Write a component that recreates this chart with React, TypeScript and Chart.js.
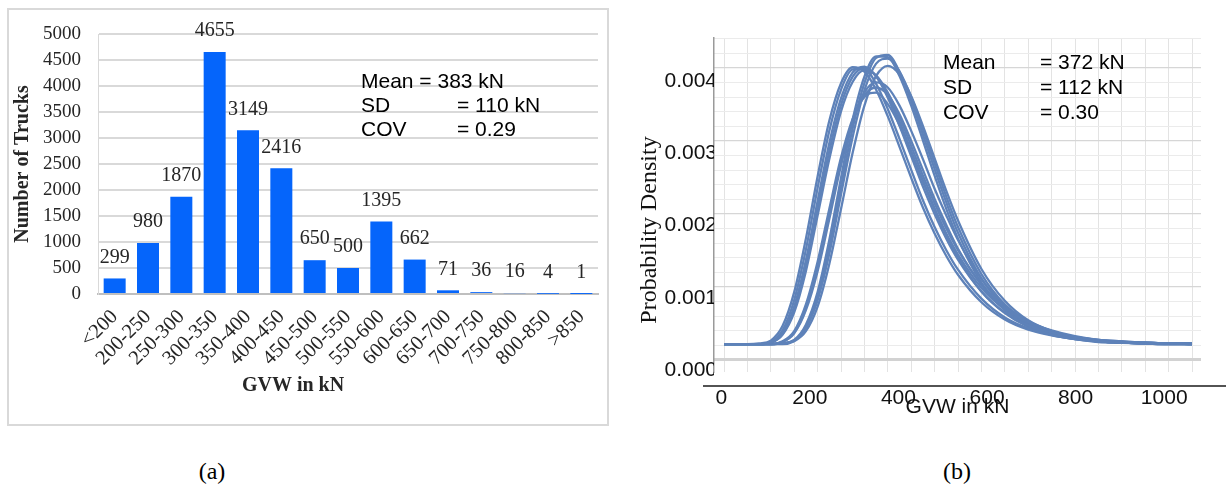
import React, { useEffect, useRef } from "react";
import { Chart, registerables } from "chart.js";

Chart.register(...registerables);

// ---------- Panel (a): histogram ----------
const gvwBins = ["<200", "200-250", "250-300", "300-350", "350-400", "400-450", "450-500", "500-550", "550-600", "600-650", "650-700", "700-750", "750-800", "800-850", ">850"];
const truckCounts = [299, 980, 1870, 4655, 3149, 2416, 650, 500, 1395, 662, 71, 36, 16, 4, 1];
const histStatsLabels = ["Mean = 383 kN", "SD", "COV"];
const histStatsValues = ["", "= 110 kN", "= 0.29"];

// ---------- Panel (b): fitted density curves ----------
const densityX = [0, 50, 75, 100, 125, 150, 175, 200, 225, 250, 275, 300, 325, 350, 375, 400, 425, 450, 475, 500, 550, 600, 650, 700, 750, 800, 850, 900, 950, 1000];
const curveA = [0.00036, 0.00036, 0.00036, 0.00039, 0.00055, 0.00097, 0.00167, 0.00252, 0.00331, 0.00388, 0.00416, 0.00417, 0.00396, 0.00361, 0.0032, 0.00277, 0.00235, 0.00198, 0.00166, 0.00139, 0.00099, 0.00073, 0.00058, 0.00049, 0.00043, 0.0004, 0.00038, 0.00037, 0.00037, 0.00036];
const curveB = [0.00036, 0.00036, 0.00036, 0.00038, 0.00052, 0.00088, 0.00152, 0.00234, 0.00314, 0.00376, 0.00412, 0.0042, 0.00406, 0.00377, 0.00338, 0.00296, 0.00254, 0.00216, 0.00182, 0.00153, 0.00109, 0.0008, 0.00062, 0.00052, 0.00045, 0.00041, 0.00039, 0.00038, 0.00037, 0.00037];
const curveC = [0.00036, 0.00036, 0.00036, 0.00038, 0.00049, 0.0008, 0.00137, 0.00214, 0.00292, 0.00358, 0.00399, 0.00415, 0.00408, 0.00384, 0.0035, 0.0031, 0.00269, 0.00231, 0.00196, 0.00166, 0.00119, 0.00087, 0.00067, 0.00055, 0.00047, 0.00042, 0.0004, 0.00038, 0.00037, 0.00037];
const curveD = [0.00036, 0.00036, 0.00036, 0.00036, 0.00037, 0.00042, 0.00063, 0.00108, 0.0018, 0.00266, 0.00347, 0.00406, 0.00434, 0.00433, 0.00407, 0.00366, 0.00318, 0.00269, 0.00223, 0.00182, 0.00121, 0.00083, 0.00061, 0.00049, 0.00043, 0.00039, 0.00038, 0.00037, 0.00036, 0.00036];
const curveE = [0.00036, 0.00036, 0.00036, 0.00036, 0.00037, 0.00041, 0.00058, 0.00097, 0.00161, 0.00243, 0.00323, 0.00387, 0.00424, 0.00431, 0.00413, 0.00378, 0.00333, 0.00286, 0.0024, 0.00198, 0.00133, 0.00091, 0.00066, 0.00052, 0.00044, 0.0004, 0.00038, 0.00037, 0.00036, 0.00036];
const curveF = [0.00036, 0.00036, 0.00036, 0.00036, 0.00036, 0.0004, 0.00054, 0.00088, 0.00147, 0.00223, 0.00301, 0.00366, 0.00407, 0.00421, 0.00409, 0.00379, 0.00338, 0.00293, 0.00248, 0.00207, 0.0014, 0.00096, 0.00069, 0.00054, 0.00045, 0.00041, 0.00039, 0.00037, 0.00036, 0.00036];
const curveG = [0.00036, 0.00036, 0.00036, 0.00036, 0.0004, 0.00054, 0.00091, 0.0015, 0.00223, 0.00294, 0.00348, 0.00378, 0.00384, 0.00368, 0.00339, 0.00301, 0.00261, 0.00222, 0.00187, 0.00156, 0.00109, 0.00079, 0.0006, 0.0005, 0.00044, 0.0004, 0.00038, 0.00037, 0.00037, 0.00036];
const curveH = [0.00036, 0.00036, 0.00036, 0.00036, 0.00039, 0.00051, 0.00083, 0.00137, 0.00209, 0.00283, 0.00344, 0.00384, 0.00398, 0.00391, 0.00366, 0.00331, 0.00292, 0.00251, 0.00214, 0.0018, 0.00126, 0.0009, 0.00068, 0.00054, 0.00046, 0.00042, 0.00039, 0.00038, 0.00037, 0.00037];
const curveI = [0.00036, 0.00036, 0.00036, 0.00038, 0.0005, 0.00083, 0.00144, 0.00224, 0.00303, 0.00367, 0.00406, 0.00418, 0.00407, 0.00381, 0.00344, 0.00303, 0.00262, 0.00224, 0.00189, 0.0016, 0.00114, 0.00084, 0.00065, 0.00054, 0.00046, 0.00042, 0.0004, 0.00038, 0.00037, 0.00037];
const curveJ = [0.00036, 0.00036, 0.00036, 0.00036, 0.00037, 0.00041, 0.0006, 0.00102, 0.0017, 0.00254, 0.00335, 0.00397, 0.00432, 0.00436, 0.00413, 0.00373, 0.00326, 0.00278, 0.00232, 0.0019, 0.00127, 0.00087, 0.00063, 0.00051, 0.00044, 0.0004, 0.00038, 0.00037, 0.00036, 0.00036];
const curveK = [0.00036, 0.00036, 0.00036, 0.00036, 0.00039, 0.00052, 0.00086, 0.00142, 0.00215, 0.00288, 0.00345, 0.0038, 0.00391, 0.00381, 0.00354, 0.00317, 0.00277, 0.00237, 0.00201, 0.00168, 0.00118, 0.00085, 0.00064, 0.00052, 0.00045, 0.00041, 0.00039, 0.00038, 0.00037, 0.00036];
const curveL = [0.00036, 0.00036, 0.00037, 0.00041, 0.00061, 0.00108, 0.00182, 0.00268, 0.00345, 0.00397, 0.00419, 0.00413, 0.00388, 0.00351, 0.00309, 0.00266, 0.00225, 0.00189, 0.00158, 0.00132, 0.00094, 0.0007, 0.00056, 0.00048, 0.00043, 0.0004, 0.00038, 0.00037, 0.00037, 0.00036];
const densityCurves = [curveA, curveB, curveC, curveD, curveE, curveF, curveG, curveH, curveI, curveJ, curveK, curveL];

const densityTicks = [0, 0.001, 0.002, 0.003, 0.004];
const gvwTicks = [0, 200, 400, 600, 800, 1000];
const gridStepsX = [0, 50, 100, 150, 200, 250, 300, 350, 400, 450, 500, 550, 600, 650, 700, 750, 800, 850, 900, 950, 1000];
const gridStepsY = [0, 1, 2, 3, 4, 5, 6, 7, 8, 9, 10, 11, 12, 13, 14, 15, 16, 17, 18, 19, 20, 21, 22];
const densityStatsLabels = ["Mean", "SD", "COV"];
const densityStatsValues = ["= 372 kN", "= 112 kN", "= 0.30"];

const SERIF = "'Liberation Serif', 'Times New Roman', serif";
const SANS = "'Liberation Sans', Arial, sans-serif";

type TextItem = { text: string; x: number; y: number; font: string; color?: string; align?: CanvasTextAlign; rotate?: number };
type LineItem = { x1: number; y1: number; x2: number; y2: number; color: string; width: number };

function overlayPlugin(id: string, texts: TextItem[], lines: LineItem[] = []) {
  return {
    id,
    afterDraw(chart: any) {
      const ctx = chart.ctx as CanvasRenderingContext2D;
      ctx.save();
      for (const l of lines) {
        ctx.beginPath();
        ctx.strokeStyle = l.color;
        ctx.lineWidth = l.width;
        ctx.moveTo(l.x1, l.y1);
        ctx.lineTo(l.x2, l.y2);
        ctx.stroke();
      }
      for (const t of texts) {
        ctx.save();
        ctx.translate(t.x, t.y);
        if (t.rotate) ctx.rotate(t.rotate);
        ctx.font = t.font;
        ctx.fillStyle = t.color || "#000";
        ctx.textAlign = t.align || "left";
        ctx.textBaseline = "middle";
        ctx.fillText(t.text, 0, 0);
        ctx.restore();
      }
      ctx.restore();
    },
  };
}

const barValueLabels = {
  id: "barValueLabels",
  afterDatasetsDraw(chart: any) {
    const meta = chart.getDatasetMeta(0);
    const ctx = chart.ctx as CanvasRenderingContext2D;
    ctx.save();
    ctx.font = `20px ${SERIF}`;
    ctx.fillStyle = "#262626";
    ctx.textAlign = "center";
    ctx.textBaseline = "middle";
    meta.data.forEach((bar: any, i: number) => {
      ctx.fillText(String(truckCounts[i]), bar.x, bar.y - 21);
    });
    ctx.restore();
  },
};

function HistogramPanel() {
  const ref = useRef<HTMLCanvasElement>(null);
  useEffect(() => {
    if (!ref.current) return;
    const statsTexts: TextItem[] = [];
    histStatsLabels.forEach((t, i) => {
      statsTexts.push({ text: t, x: 361, y: 82 + i * 24, font: `21px ${SANS}` });
      if (histStatsValues[i]) statsTexts.push({ text: histStatsValues[i], x: 457, y: 82 + i * 24, font: `21px ${SANS}` });
    });
    statsTexts.push({ text: "GVW in kN", x: 293, y: 386, font: `bold 20px ${SERIF}`, color: "#262626", align: "center" });
    const chart = new Chart(ref.current, {
      type: "bar",
      data: {
        labels: gvwBins,
        datasets: [
          {
            data: truckCounts,
            backgroundColor: "#0565fb",
            borderWidth: 0,
            categoryPercentage: 0.66,
            barPercentage: 1,
          },
        ],
      },
      options: {
        responsive: false,
        animation: false,
        layout: { padding: { top: 34, right: 14, left: 0, bottom: 0 } },
        plugins: { legend: { display: false }, tooltip: { enabled: false } },
        scales: {
          x: {
            grid: { display: false, drawTicks: false },
            border: { display: true, color: "#bfbfbf", width: 2 },
            ticks: {
              autoSkip: false,
              minRotation: 45,
              maxRotation: 45,
              font: { family: SERIF, size: 20.5 },
              color: "#262626",
              padding: 11,
            },
            afterFit: (s: any) => {
              s.height = 136;
            },
          },
          y: {
            min: 0,
            max: 5000,
            ticks: { stepSize: 500, font: { family: SERIF, size: 19 }, color: "#262626", padding: 17, callback: (v: any) => String(v) },
            grid: { color: "#d9d9d9", lineWidth: 2, drawTicks: false },
            border: { display: true, color: "#d9d9d9", width: 1 },
            title: {
              display: true,
              text: "Number of Trucks",
              font: { family: SERIF, size: 20, weight: "bold" },
              color: "#262626",
              padding: { top: 11, bottom: 0 },
            },
            afterFit: (s: any) => {
              s.width = 98;
            },
          },
        },
      } as any,
      plugins: [barValueLabels, overlayPlugin("histTexts", statsTexts)],
    });
    return () => chart.destroy();
  }, []);
  return <canvas ref={ref} width={612} height={430} style={{ position: "absolute", left: 0, top: 0, width: 612, height: 430 }} />;
}

function DensityPanel() {
  const ref = useRef<HTMLCanvasElement>(null);
  useEffect(() => {
    if (!ref.current) return;
    const texts: TextItem[] = [];
    densityStatsLabels.forEach((t, i) => {
      texts.push({ text: t, x: 331, y: 63 + i * 25, font: `21px ${SANS}` });
      texts.push({ text: densityStatsValues[i], x: 428, y: 63 + i * 25, font: `21px ${SANS}` });
    });
    texts.push({ text: "Probability Density", x: 38, y: 230, font: `24px ${SERIF}`, color: "#111", align: "center", rotate: -Math.PI / 2 });
    const lines: LineItem[] = [{ x1: 91, y1: 386, x2: 614, y2: 386, color: "#1a1a1a", width: 1.5 }];
    const chart = new Chart(ref.current, {
      type: "line",
      data: {
        datasets: densityCurves.map((c) => ({
          data: densityX.map((x, i) => ({ x, y: c[i] })),
          borderColor: "#5e82b9",
          borderWidth: 2.3,
          pointRadius: 0,
          cubicInterpolationMode: "monotone",
          fill: false,
          xAxisID: "x",
          yAxisID: "y",
        })),
      },
      options: {
        responsive: false,
        animation: false,
        layout: { padding: { top: 38, right: 25, left: 0, bottom: 10 } },
        plugins: { legend: { display: false }, tooltip: { enabled: false } },
        scales: {
          x: {
            type: "linear",
            position: "bottom",
            weight: 0,
            min: -21.37,
            max: 1019.2,
            afterBuildTicks: (s: any) => {
              s.ticks = gridStepsX.map((v) => ({ value: v }));
            },
            ticks: { display: false },
            grid: { color: "#e3e3e3", lineWidth: 1, drawTicks: false },
            border: { display: false },
            afterFit: (s: any) => {
              s.height = 14;
            },
          },
          x2: {
            type: "linear",
            position: "bottom",
            weight: 1,
            min: -16.5,
            max: 1083.1,
            afterBuildTicks: (s: any) => {
              s.ticks = gvwTicks.map((v) => ({ value: v }));
            },
            ticks: { font: { family: SANS, size: 21 }, color: "#111", padding: 0, callback: (v: any) => String(v) },
            grid: { display: false, drawTicks: false },
            border: { display: false },
            title: { display: true, text: "GVW in kN", font: { family: SANS, size: 21 }, color: "#111", padding: 0 },
            afterFit: (s: any) => {
              s.height = 34;
            },
          },
          y: {
            type: "linear",
            position: "left",
            min: -0.0000249,
            max: 0.0045948,
            afterBuildTicks: (s: any) => {
              s.ticks = densityTicks.map((v) => ({ value: v }));
            },
            ticks: { font: { family: SANS, size: 21 }, color: "#111", padding: -3, callback: (v: any) => Number(v).toFixed(3) },
            grid: { display: false, drawTicks: false },
            border: { display: true, color: "#9a9a9a", width: 1.5 },
            afterFit: (s: any) => {
              s.width = 102;
            },
          },
          yGrid: {
            type: "linear",
            position: "right",
            min: -0.822,
            max: 22.05,
            afterBuildTicks: (s: any) => {
              s.ticks = gridStepsY.map((v) => ({ value: v }));
            },
            ticks: { display: false },
            grid: {
              drawTicks: false,
              color: (c: any) => (c.tick && c.tick.value === 0 ? "#d2d2d2" : c.tick && c.tick.value % 5 === 0 ? "#d6d6d6" : "#ebebeb"),
              lineWidth: (c: any) => (c.tick && c.tick.value === 0 ? 3 : c.tick && c.tick.value % 5 === 0 ? 1.3 : 1),
            },
            border: { display: false },
            afterFit: (s: any) => {
              s.width = 0;
            },
          },
        },
      } as any,
      plugins: [overlayPlugin("densityTexts", texts, lines)],
    });
    return () => chart.destroy();
  }, []);
  return <canvas ref={ref} width={614} height={430} style={{ position: "absolute", left: 612, top: 0, width: 614, height: 430 }} />;
}

export default function App() {
  const caption: React.CSSProperties = {
    position: "absolute",
    top: 456,
    width: 80,
    textAlign: "center",
    fontFamily: SERIF,
    fontSize: 24,
    lineHeight: "30px",
    color: "#000",
  };
  return (
    <div style={{ position: "absolute", left: 0, top: 0, width: 1226, height: 489, background: "#fff", overflow: "hidden" }}>
      <div style={{ position: "absolute", left: 7, top: 8, width: 602, height: 418, border: "2px solid #d9d9d9", boxSizing: "border-box" }} />
      <HistogramPanel />
      <DensityPanel />
      <div style={{ ...caption, left: 172 }}>(a)</div>
      <div style={{ ...caption, left: 917 }}>(b)</div>
    </div>
  );
}
